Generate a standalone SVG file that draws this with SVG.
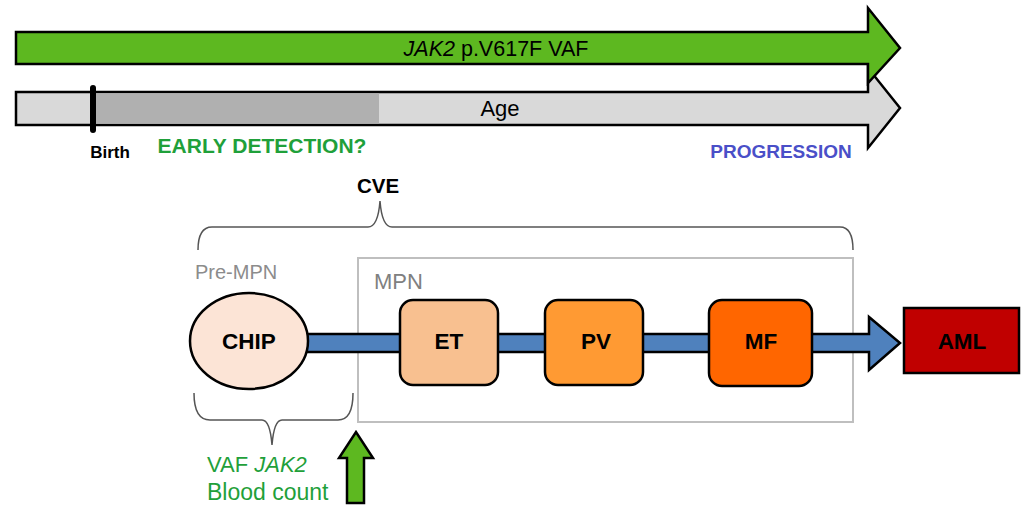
<svg xmlns="http://www.w3.org/2000/svg" width="1022" height="505" viewBox="0 0 1022 505">
<style>
text{font-family:"Liberation Sans","DejaVu Sans",sans-serif}
.box{stroke:#000;stroke-width:2.5}
.lbl{font-weight:bold;font-size:22.5px;text-anchor:middle;fill:#000}
.brace{fill:none;stroke:#555;stroke-width:1.5}
.gt{fill:#1FA03A}
</style>
<rect width="1022" height="505" fill="#fff"/>
<g id="age-arrow">
<path d="M16 92 H868 V68 L900 108 L868 148 V125 H16 Z" fill="#D9D9D9" stroke="#000" stroke-width="2.5"/>
<rect x="94" y="93.5" width="285" height="30" fill="#B0B0B0"/>
<text x="500" y="116" font-size="22" text-anchor="middle">Age</text>
</g>
<g id="vaf-arrow">
<path d="M16 32 H868 V8 L900 48 L868 83 V64 H16 Z" fill="#5DB820" stroke="#000" stroke-width="2.5"/>
<text x="496" y="56" font-size="21.5" text-anchor="middle"><tspan font-style="italic">JAK2</tspan> p.V617F VAF</text>
</g>
<g id="birth">
<line x1="93" y1="88" x2="93" y2="130" stroke="#000" stroke-width="6" stroke-linecap="round"/>
<text x="110" y="158" font-size="17" font-weight="bold" text-anchor="middle">Birth</text>
</g>
<text x="262" y="153" font-size="21" font-weight="bold" class="gt" text-anchor="middle">EARLY DETECTION?</text>
<text x="781" y="158" font-size="19" font-weight="bold" fill="#4A4FC8" text-anchor="middle">PROGRESSION</text>
<g id="cve">
<text x="378" y="193" font-size="20.5" font-weight="bold" text-anchor="middle">CVE</text>
<path class="brace" d="M198 250 Q198 227 212 227 H368 Q378 227 380 201 Q382 227 392 227 H840 Q853 227 853 250"/>
</g>
<g id="mpn-box">
<rect x="358" y="258" width="495" height="164" fill="none" stroke="#BFBFBF" stroke-width="2"/>
<text x="374" y="289" font-size="22" fill="#808080">MPN</text>
</g>
<text x="195" y="279" font-size="20" fill="#8C8C8C">Pre-MPN</text>
<g id="connectors">
<path d="M306 334 H869 V317 L900 343 L869 370 V352 H306 Z" fill="#4F81BD" stroke="#000" stroke-width="2.5"/>
<path d="M347 503 V458 H339 L356 432 L373 458 H364 V503 Z" fill="#5DB820" stroke="#000" stroke-width="2.5"/>
</g>
<g id="chip">
<ellipse cx="249" cy="341" rx="59" ry="48" fill="#FCE4D6" class="box"/>
<text x="249" y="349" class="lbl">CHIP</text>
</g>
<g id="et">
<rect x="400" y="300" width="98" height="85" rx="13" fill="#F8C090" class="box"/>
<text x="449" y="349" class="lbl">ET</text>
</g>
<g id="pv">
<rect x="545" y="300" width="98" height="85" rx="13" fill="#FF9A33" class="box"/>
<text x="596" y="349" class="lbl">PV</text>
</g>
<g id="mf">
<rect x="709" y="300" width="103" height="86" rx="13" fill="#FF6600" class="box"/>
<text x="761" y="349" class="lbl">MF</text>
</g>
<g id="aml">
<rect x="904" y="308" width="115" height="65" fill="#C00000" class="box"/>
<text x="962" y="349" class="lbl">AML</text>
</g>
<g id="vaf-note">
<path class="brace" d="M194 393 Q194 420 210 420 H262 Q270 420 272 445 Q274 420 282 420 H338 Q353 420 353 393"/>
<text x="207" y="472" font-size="22" class="gt">VAF <tspan font-style="italic">JAK2</tspan></text>
<text x="207" y="500" font-size="23" class="gt">Blood count</text>
</g>
</svg>
